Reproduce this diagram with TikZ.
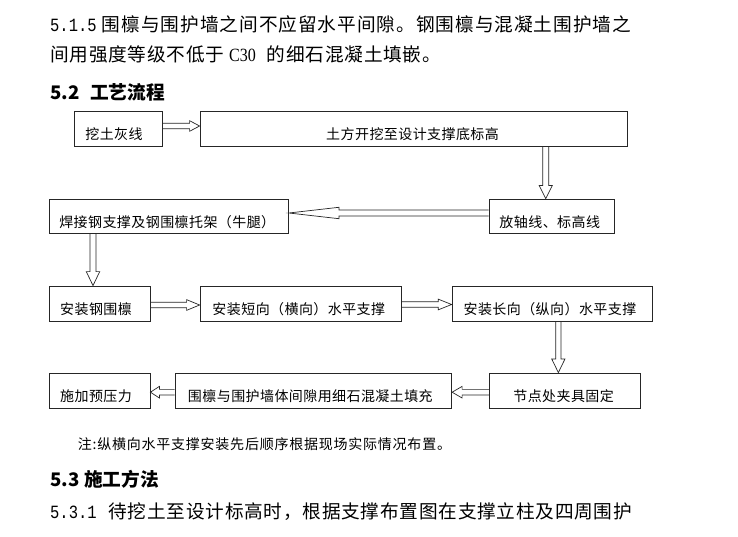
\documentclass[tikz,border=0pt]{standalone}
\usepackage{fontspec}
\usepackage{graphicx}
\usetikzlibrary{calc}
\setmainfont{Noto Sans CJK SC}
\newfontfamily\bodyfont{Noto Sans CJK SC}[LetterSpace=4.0]
\newfontfamily\bodyfontwide{Noto Sans CJK SC}[LetterSpace=5.2]
\newfontfamily\boxfont{Noto Sans CJK SC}[LetterSpace=3]
\newfontfamily\notefont{Noto Sans CJK SC}[LetterSpace=5.5]
\newfontfamily\headfont{Noto Sans CJK SC}
\newfontfamily\numfont{Liberation Mono}
\newfontfamily\serfont{Liberation Serif}
\newcommand\secnum[1]{\scalebox{0.83}[1]{\numfont\fontsize{18.67pt}{18.67pt}\selectfont #1}}
\newcommand\harrow[5]{%
  \path #1 coordinate (hs) #2 coordinate (he);
  \coordinate (hb) at ($(he)!#5!(hs)$);
  \draw[arr] ($(hs)!#3!90:(he)$) -- ($(hb)!#3!-90:(hs)$) -- ($(hb)!#4!-90:(hs)$) -- (he)
    -- ($(hb)!#4!90:(hs)$) -- ($(hb)!#3!90:(hs)$) -- ($(hs)!#3!-90:(he)$);
}
\begin{document}
\begin{tikzpicture}[x=1pt,y=-1pt,
  fbox/.style={draw=black!85, line width=0.8pt, inner sep=0pt, text height=22.6pt, text depth=0pt,
    font={\boxfont\fontsize{14pt}{14pt}\selectfont}},
  arr/.style={draw=black!85, line width=0.7pt, line join=miter},
  txt/.style={anchor=base west, inner sep=0pt}]
\useasboundingbox (0,0) rectangle (738,537);
\fill[white] (0,0) rectangle (738,537);

% body text
\node[txt] (t1) at (50,31.8) {\bodyfontwide\fontsize{18.67pt}{18.67pt}\selectfont\makebox[51.7pt][l]{\secnum{5.1.5}}围檩与围护墙之间不应留水平间隙。钢围檩与混凝土围护墙之};
\node[txt] (t2) at (50,61.9) {\bodyfont\fontsize{18.67pt}{18.67pt}\selectfont 间用强度等级不低于\hspace{5pt}\scalebox{0.86}[1]{\serfont\fontsize{18.67pt}{18.67pt}\selectfont C30}\hspace{11pt}的细石混凝土填嵌。};
\node[txt] (t3) at (50,99.8) {\headfont\bfseries\fontsize{18.67pt}{18.67pt}\selectfont\makebox[40pt][l]{5.2}工艺流程};
\node[txt] (t4) at (77.7,449.3) {\notefont\fontsize{14pt}{14pt}\selectfont 注:纵横向水平支撑安装先后顺序根据现场实际情况布置。};
\node[txt] (t5) at (50,486.1) {\headfont\bfseries\fontsize{18.67pt}{18.67pt}\selectfont\makebox[34pt][l]{5.3}施工方法};
\node[txt] (t6) at (50,518.6) {\bodyfont\fontsize{18.67pt}{18.67pt}\selectfont\makebox[58.3pt][l]{\secnum{5.3.1}}待挖土至设计标高时，根据支撑布置图在支撑立柱及四周围护};

% boxes
\node[fbox, minimum width=88pt, minimum height=35pt] (b1) at (118.5,128.5) {挖土灰线\kern9pt};
\node[fbox, minimum width=427.5pt, minimum height=35pt] (b2) at (413.75,128.5) {土方开挖至设计支撑底标高\kern2.4pt};
\node[fbox, minimum width=125.5pt, minimum height=34.5pt] (b3) at (551.75,216.25) {放轴线、标高线\kern4pt};
\node[fbox, minimum width=239.5pt, minimum height=34.5pt] (b4) at (168.75,216.25) {焊接钢支撑及钢围檩托架（牛腿）\kern3pt};
\node[fbox, minimum width=101pt, minimum height=35pt] (b5) at (99.5,303.5) {安装钢围檩\kern7pt};
\node[fbox, minimum width=201pt, minimum height=35pt] (b6) at (300.5,303.5) {安装短向（横向）水平支撑\kern3.4pt};
\node[fbox, minimum width=200.5pt, minimum height=35pt] (b7) at (552.25,303.5) {安装长向（纵向）水平支撑\kern4.6pt};
\node[fbox, minimum width=150.7pt, minimum height=35pt] (b8) at (564.65,390.5) {节点处夹具固定\kern2pt};
\node[fbox, minimum width=276.7pt, minimum height=35pt] (b9) at (313.35,390.5) {围檩与围护墙体间隙用细石混凝土填充\kern6pt};
\node[fbox, minimum width=101pt, minimum height=35pt] (b10) at (99.5,390.5) {施加预压力\kern7pt};

% arrows
\harrow{($(b1.east)+(0,-2.5)$)}{($(b2.west)+(0,-2.5)$)}{2.8pt}{5.3pt}{10pt}
\coordinate (a2e) at ($(b3.north)+(-6,0)$);
\harrow{(b2.south -| a2e)}{(a2e)}{3pt}{6.5pt}{13pt}
\harrow{($(b3.west)+(0,-3.25)$)}{($(b4.east)+(0,-3.25)$)}{3pt}{5.7pt}{50pt}
\coordinate (a4e) at ($(b5.north)+(-6.5,0)$);
\harrow{(b4.south -| a4e)}{(a4e)}{3pt}{6.7pt}{14pt}
\harrow{($(b5.east)+(0,1.5)$)}{($(b6.west)+(0,1.5)$)}{2.7pt}{5.35pt}{13pt}
\harrow{($(b6.east)+(0,1)$)}{($(b7.west)+(0,1)$)}{2.7pt}{5.35pt}{13.4pt}
\coordinate (a7e) at ($(b8.north)+(-6.3,0)$);
\harrow{(b7.south -| a7e)}{(a7e)}{2.65pt}{6.65pt}{13.7pt}
\harrow{($(b8.west)+(0,1.7)$)}{($(b9.east)+(0,1.7)$)}{2.85pt}{5.8pt}{10pt}
\harrow{($(b9.west)+(0,1.7)$)}{($(b10.east)+(0,1.7)$)}{2.85pt}{5.8pt}{9pt}
\end{tikzpicture}
\end{document}
